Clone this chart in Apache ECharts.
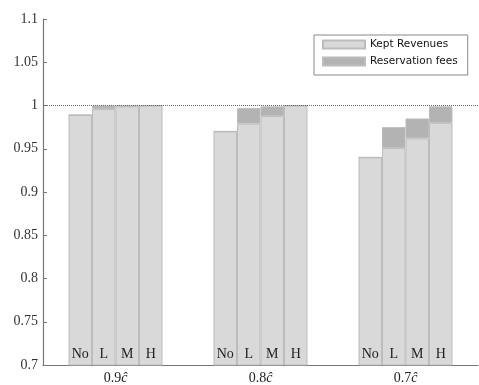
<!DOCTYPE html>
<html>
<head>
<meta charset="utf-8">
<script src="https://cdn.jsdelivr.net/npm/echarts@6/dist/echarts.min.js"></script>
<style>
  html, body { margin: 0; padding: 0; background: #fff; }
  #chart { width: 479px; height: 385px; }
</style>
</head>
<body>
<div id="chart"></div>
<script>
// Capacity scenarios on the x axis
const categories = ['0.9ĉ', '0.8ĉ', '0.7ĉ'];
// Fee levels inside each scenario
const levels = ['No', 'L', 'M', 'H'];

// Kept revenues per level (one value per scenario)
const keptNo = [0.989, 0.970, 0.940];
const keptL  = [0.996, 0.979, 0.951];
const keptM  = [0.999, 0.988, 0.962];
const keptH  = [1.000, 1.000, 0.980];

// Reservation fees stacked on top
const feeNo = [0, 0, 0];
const feeL  = [0.004, 0.018, 0.024];
const feeM  = [0.001, 0.011, 0.023];
const feeH  = [0, 0, 0.019];

const yTicks = { min: 0.7, max: 1.1, step: 0.05 };

const keptByLevel = { No: keptNo, L: keptL, M: keptM, H: keptH };
const feeByLevel  = { No: feeNo,  L: feeL,  M: feeM,  H: feeH };

const serif = '"Liberation Serif", "DejaVu Serif", serif';
const keptColor = '#d9d9d9';
const feeColor = '#b3b3b3';
const edgeColor = '#bcbcbc';

const series = [];
levels.forEach((lv, i) => {
  series.push({
    name: 'Kept Revenues',
    type: 'bar',
    stack: lv,
    barWidth: 23.5,
    barGap: '0%',
    data: keptByLevel[lv],
    itemStyle: { color: keptColor, borderColor: edgeColor, borderWidth: 1 },
    label: {
      show: true,
      position: 'insideBottom',
      distance: 4,
      formatter: () => lv,
      fontFamily: serif,
      fontSize: 14,
      color: '#222'
    },
    markLine: i === 0 ? {
      silent: true,
      symbol: 'none',
      label: { show: false },
      lineStyle: { type: 'dotted', color: '#666', width: 1 },
      data: [{ yAxis: 1 }]
    } : undefined
  });
  series.push({
    name: 'Reservation fees',
    type: 'bar',
    stack: lv,
    barWidth: 23.5,
    barGap: '0%',
    data: feeByLevel[lv],
    itemStyle: { color: feeColor, borderColor: edgeColor, borderWidth: 1 }
  });
});

const chart = echarts.init(document.getElementById('chart'), null, { renderer: 'canvas' });
chart.setOption({
  animation: false,
  backgroundColor: '#fff',
  grid: { left: 43, right: 1, top: 19, bottom: 20, containLabel: false },
  legend: {
    data: ['Kept Revenues', 'Reservation fees'],
    orient: 'vertical',
    left: 314,
    top: 35,
    padding: [3, 10, 7, 8],
    itemGap: 4,
    itemWidth: 42,
    itemHeight: 8,
    icon: 'rect',
    borderColor: '#888',
    borderWidth: 1,
    backgroundColor: '#fff',
    textStyle: { fontFamily: '"DejaVu Sans", sans-serif', fontSize: 10.5, lineHeight: 13, color: '#111' }
  },
  xAxis: {
    type: 'category',
    data: categories,
    axisLine: { lineStyle: { color: '#777', width: 1.2 } },
    axisTick: { show: false },
    axisLabel: {
      margin: 6,
      fontFamily: serif,
      fontSize: 14,
      color: '#222',
      formatter: v => '{n|' + v.slice(0, -1) + '}{c|' + v.slice(-1) + '}',
      rich: {
        n: { fontFamily: serif, fontSize: 14, color: '#222' },
        c: { fontFamily: serif, fontSize: 14, fontStyle: 'italic', color: '#222' }
      }
    }
  },
  yAxis: {
    type: 'value',
    min: yTicks.min,
    max: yTicks.max,
    interval: yTicks.step,
    splitLine: { show: false },
    axisLine: { show: true, lineStyle: { color: '#777', width: 1.2 } },
    axisTick: { show: true, inside: true, length: 4, lineStyle: { color: '#777' } },
    axisLabel: {
      margin: 5,
      fontFamily: serif,
      fontSize: 14,
      color: '#333',
      formatter: v => String(Math.round(v * 100) / 100)
    }
  },
  series: series
});
</script>
</body>
</html>
